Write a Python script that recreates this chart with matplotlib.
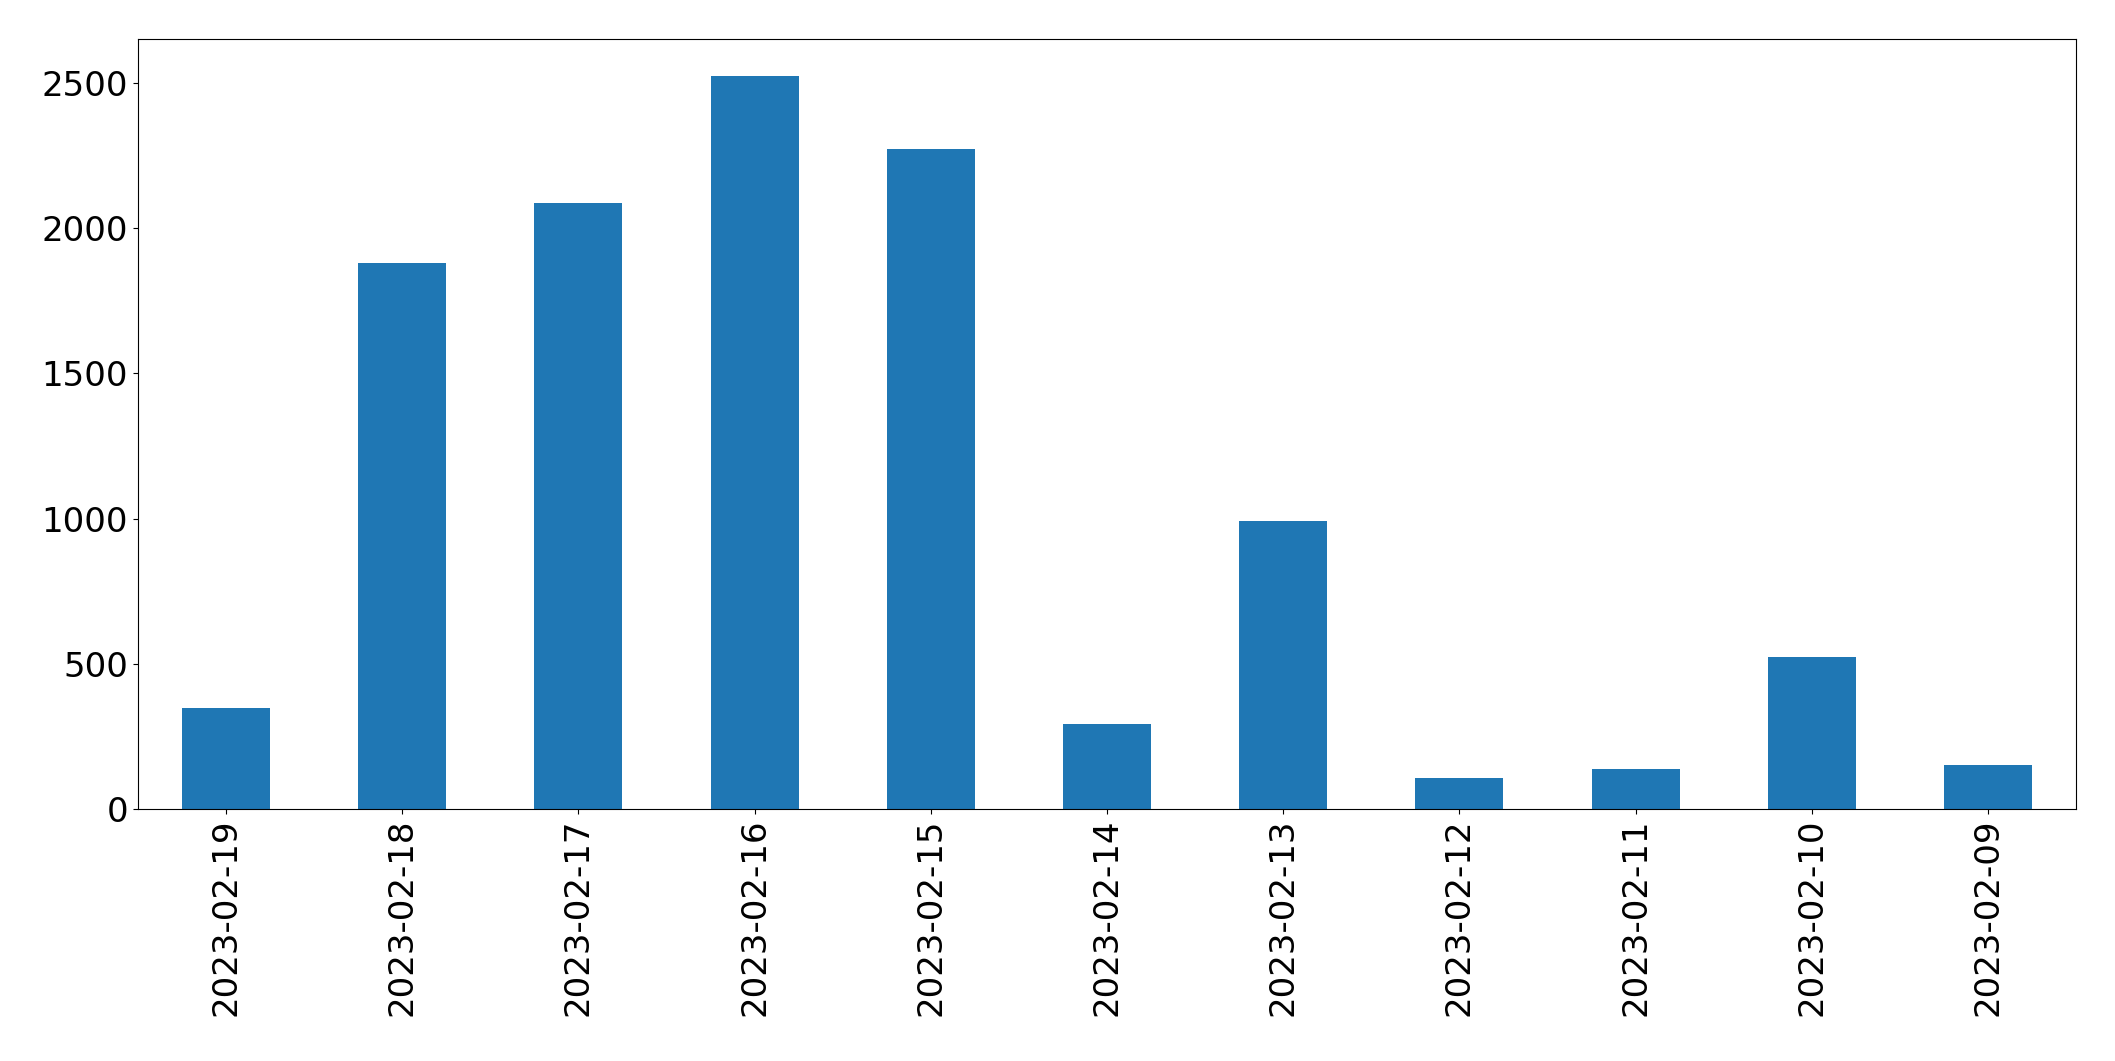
import numpy as np
import matplotlib.pyplot as plt

dates = ["2023-02-19", "2023-02-18", "2023-02-17", "2023-02-16", "2023-02-15",
         "2023-02-14", "2023-02-13", "2023-02-12", "2023-02-11", "2023-02-10",
         "2023-02-09"]
counts = [349, 1880, 2087, 2525, 2273, 294, 992, 108, 139, 522, 153]

fig, ax = plt.subplots(figsize=(21.15, 10.61), dpi=100)
fig.subplots_adjust(left=0.0652, right=0.9816, top=0.9632, bottom=0.2375)

x = np.arange(len(dates))
ax.bar(x, counts, width=0.5, color="#1f77b4")
ax.set_xlim(-0.5, len(dates) - 0.5)
ax.set_xticks(x)
ax.set_xticklabels(dates, rotation=90)
ax.tick_params(labelsize=24.5)

plt.savefig("out.png", dpi=100)
